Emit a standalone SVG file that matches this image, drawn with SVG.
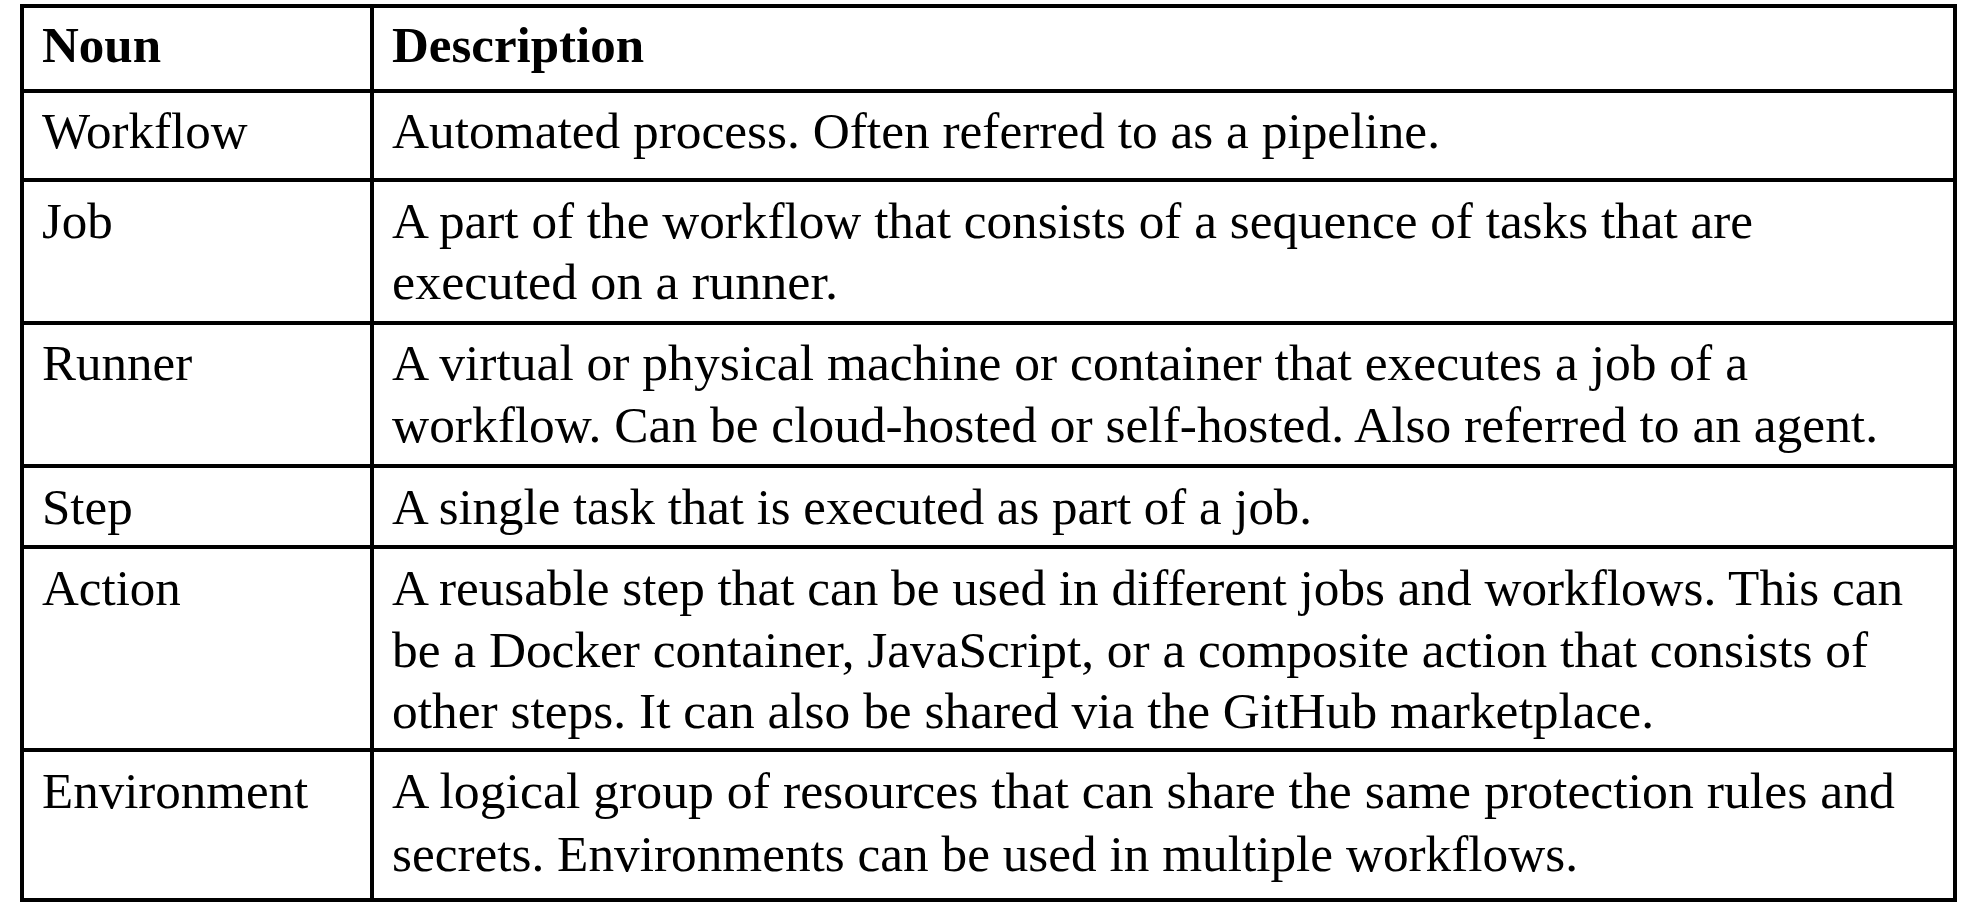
<svg xmlns="http://www.w3.org/2000/svg" width="1968" height="918" viewBox="0 0 1968 918">
<style>
  .t { font-family: "Liberation Serif", "Times New Roman", serif; font-size: 51px; fill: #000; }
  .h { font-weight: bold; }
  .g { stroke: #000; stroke-width: 4; fill: none; }
</style>
<rect x="0" y="0" width="1968" height="918" fill="#fff"/>
<g id="grid" class="g">
  <rect x="22" y="6" width="1933" height="894"/>
  <line x1="372" y1="6" x2="372" y2="900"/>
  <line x1="22" y1="91" x2="1955" y2="91"/>
  <line x1="22" y1="180" x2="1955" y2="180"/>
  <line x1="22" y1="323" x2="1955" y2="323"/>
  <line x1="22" y1="466" x2="1955" y2="466"/>
  <line x1="22" y1="547" x2="1955" y2="547"/>
  <line x1="22" y1="750" x2="1955" y2="750"/>
</g>
<g id="header">
  <text class="t h" x="42" y="62">Noun</text>
  <text class="t h" x="392" y="62">Description</text>
</g>
<g id="row-workflow">
  <text class="t" x="42" y="148">Workflow</text>
  <text class="t" x="392" y="148" textLength="1048" lengthAdjust="spacingAndGlyphs">Automated process. Often referred to as a pipeline.</text>
</g>
<g id="row-job">
  <text class="t" x="42" y="238">Job</text>
  <text class="t" x="392" y="238" textLength="1361" lengthAdjust="spacingAndGlyphs">A part of the workflow that consists of a sequence of tasks that are</text>
  <text class="t" x="392" y="299" textLength="446" lengthAdjust="spacingAndGlyphs">executed on a runner.</text>
</g>
<g id="row-runner">
  <text class="t" x="42" y="380">Runner</text>
  <text class="t" x="392" y="380" textLength="1356" lengthAdjust="spacingAndGlyphs">A virtual or physical machine or container that executes a job of a</text>
  <text class="t" x="392" y="442" textLength="1486" lengthAdjust="spacingAndGlyphs">workflow. Can be cloud-hosted or self-hosted. Also referred to an agent.</text>
</g>
<g id="row-step">
  <text class="t" x="42" y="524">Step</text>
  <text class="t" x="392" y="524" textLength="920" lengthAdjust="spacingAndGlyphs">A single task that is executed as part of a job.</text>
</g>
<g id="row-action">
  <text class="t" x="42" y="605">Action</text>
  <text class="t" x="392" y="605" textLength="1511" lengthAdjust="spacingAndGlyphs">A reusable step that can be used in different jobs and workflows. This can</text>
  <text class="t" x="392" y="667" textLength="1476" lengthAdjust="spacingAndGlyphs">be a Docker container, JavaScript, or a composite action that consists of</text>
  <text class="t" x="392" y="728" textLength="1262" lengthAdjust="spacingAndGlyphs">other steps. It can also be shared via the GitHub marketplace.</text>
</g>
<g id="row-environment">
  <text class="t" x="42" y="808">Environment</text>
  <text class="t" x="392" y="808" textLength="1503" lengthAdjust="spacingAndGlyphs">A logical group of resources that can share the same protection rules and</text>
  <text class="t" x="392" y="871" textLength="1186" lengthAdjust="spacingAndGlyphs">secrets. Environments can be used in multiple workflows.</text>
</g>
</svg>
